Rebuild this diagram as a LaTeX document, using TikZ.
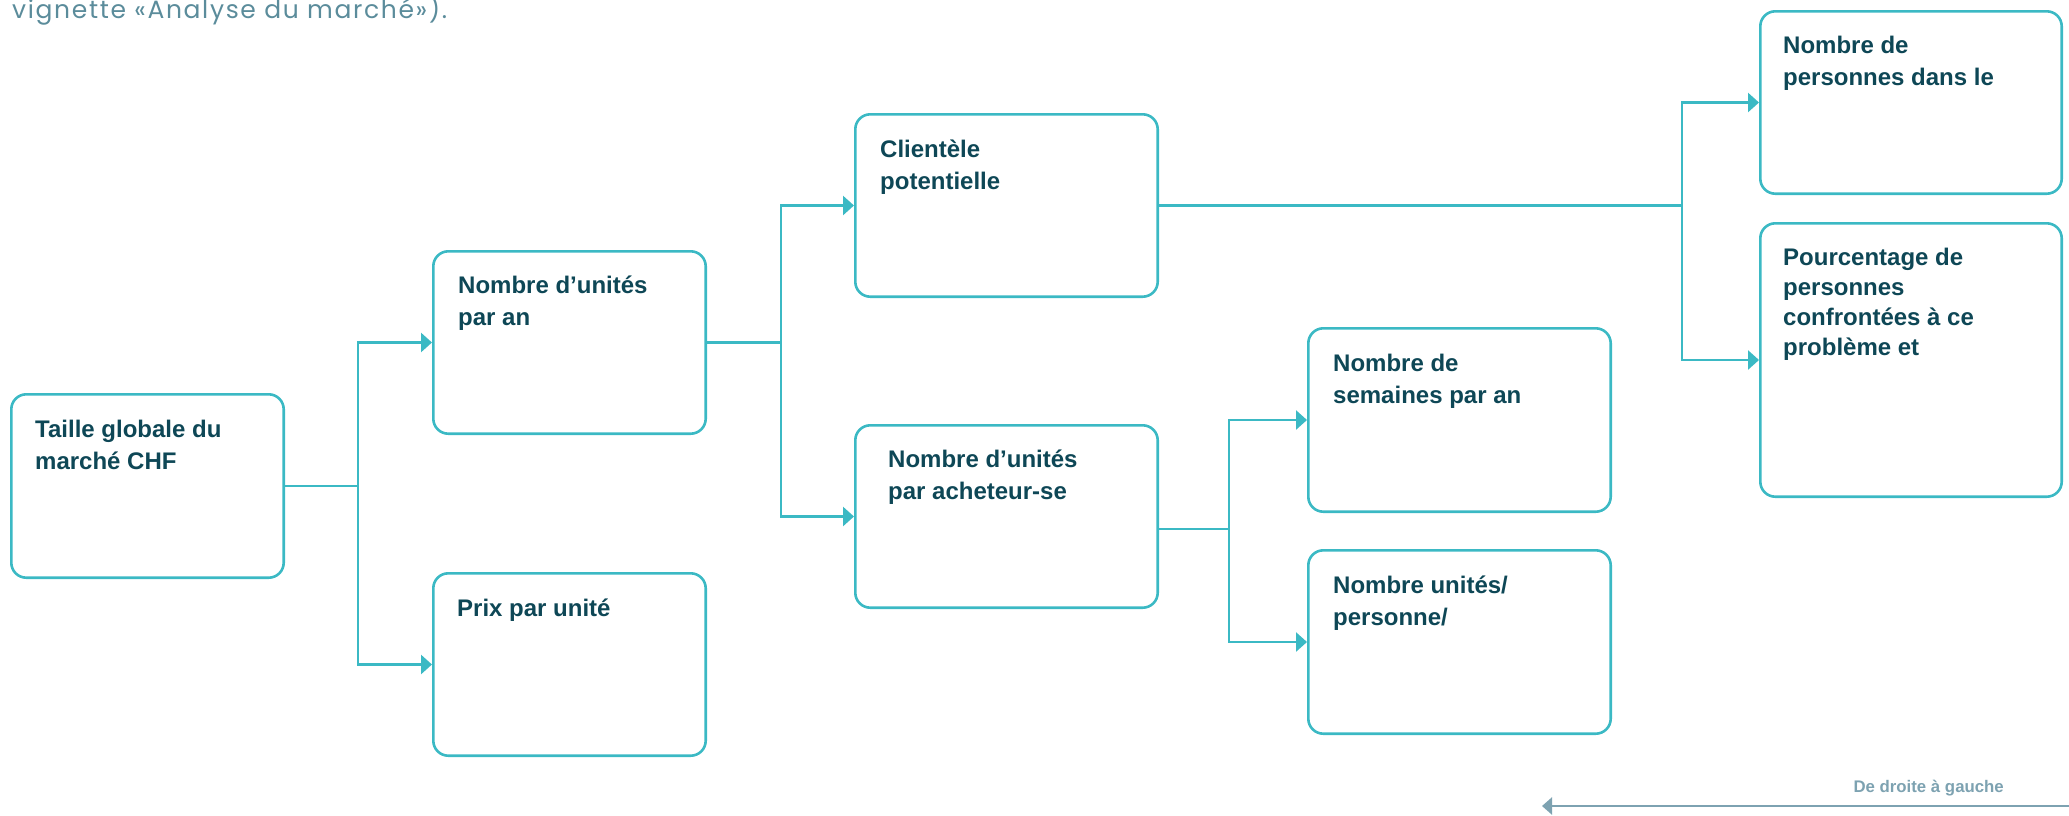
\documentclass[tikz,border=0pt]{standalone}
\usepackage{fontspec}
\setmainfont{Liberation Sans}
\newfontfamily\headfont{Poppins}[LetterSpace=6.6]
\usetikzlibrary{arrows.meta,calc}
\definecolor{boxline}{HTML}{3BB9C4}
\definecolor{boxtext}{HTML}{0E4756}
\definecolor{headtext}{HTML}{5B8C9B}
\definecolor{dirgrey}{HTML}{7DA2B1}
\begin{document}
\begin{tikzpicture}[x=1pt,y=-1pt,
  box/.style={draw=boxline, line width=2.6pt, rounded corners=15pt, inner sep=0pt},
  txt/.style={anchor=base west, inner sep=0pt, text=boxtext, font=\fontsize{24}{32}\selectfont\bfseries},
  conn/.style={draw=boxline, line width=2.6pt},
  arr/.style={conn, -{Triangle[length=11pt,width=19pt]}},
  dirarr/.style={draw=dirgrey, line width=2.6pt, -{Triangle[length=10pt,width=17pt]}}
]
\useasboundingbox (0,0) rectangle (2069,815);

% boxes
\node[box, minimum width=272.4pt, minimum height=183.4pt] (A) at (147.5,486) {};
\node[box, minimum width=272.4pt, minimum height=182.4pt] (B) at (569.5,342.5) {};
\node[box, minimum width=272.4pt, minimum height=182.4pt] (P) at (569.5,664.5) {};
\node[box, minimum width=302.4pt, minimum height=182.4pt] (C) at (1006.5,205.5) {};
\node[box, minimum width=302.4pt, minimum height=182.4pt] (D) at (1006.5,516.5) {};
\node[box, minimum width=302.4pt, minimum height=183.4pt] (E) at (1459.5,420) {};
\node[box, minimum width=302.4pt, minimum height=183.4pt] (F) at (1459.5,642) {};
\node[box, minimum width=301.4pt, minimum height=182.4pt] (G) at (1911,102.5) {};
\node[box, minimum width=301.4pt, minimum height=273.4pt] (H) at (1911,360) {};

% texts
\node[txt] (At) at ($(A.north west)+(25,44)$) {\parbox[t]{260pt}{\raggedright Taille globale du\\marché CHF}};
\node[txt] (Bt) at ($(B.north west)+(26,43)$) {\parbox[t]{260pt}{\raggedright Nombre d’unités\\par an}};
\node[txt] (Pt) at ($(P.north west)+(25,44)$) {\parbox[t]{260pt}{\raggedright Prix par unité}};
\node[txt] (Ct) at ($(C.north west)+(26,44)$) {\parbox[t]{270pt}{\raggedright Clientèle\\potentielle}};
\node[txt] (Dt) at ($(D.north west)+(34,43)$) {\parbox[t]{270pt}{\raggedright Nombre d’unités\\par acheteur-se}};
\node[txt] (Et) at ($(E.north west)+(26,44)$) {\parbox[t]{270pt}{\raggedright Nombre de\\semaines par an}};
\node[txt] (Ft) at ($(F.north west)+(26,44)$) {\parbox[t]{270pt}{\raggedright Nombre unités/\\personne/}};
\node[txt] (Gt) at ($(G.north west)+(24,43)$) {\parbox[t]{270pt}{\raggedright Nombre de\\personnes dans le}};
\node[txt] (Ht) at ($(H.north west)+(24,43)$) {\parbox[t]{270pt}{\raggedright \baselineskip=30pt Pourcentage de\\personnes\\confrontées à ce\\problème et}};

% junctions
\coordinate (j1) at (358,486);
\coordinate (j2) at (781,342.5);
\coordinate (j3) at (1229,529);
\coordinate (j4) at (1682,205.5);

\draw[conn] (A.east) -- (j1);
\draw[arr] (j1) |- (B.west);
\draw[arr] (j1) |- (P.west);

\draw[conn] (B.east) -- (j2);
\draw[arr] (j2) |- (C.west);
\draw[arr] (j2) |- (D.west);

\draw[conn] (D.east |- j3) -- (j3);
\draw[arr] (j3) |- (E.west);
\draw[arr] (j3) |- (F.west);

\draw[conn] (C.east) -- (j4);
\draw[arr] (j4) |- (G.west);
\draw[arr] (j4) |- (H.west);

% header
\node[anchor=base west, inner sep=0pt, text=headtext, font=\headfont\fontsize{25}{28}\selectfont] (head) at (12,18) {vignette «Analyse du marché»).};

% direction arrow
\coordinate (r0) at (2069,806);
\coordinate (r1) at (1542,806);
\draw[dirarr] (r0) -- (r1);
\node[anchor=base east, inner sep=0pt, text=dirgrey, font=\fontsize{16.8}{19}\selectfont\bfseries] (dir) at (2004,792) {De droite à gauche};
\end{tikzpicture}
\end{document}
